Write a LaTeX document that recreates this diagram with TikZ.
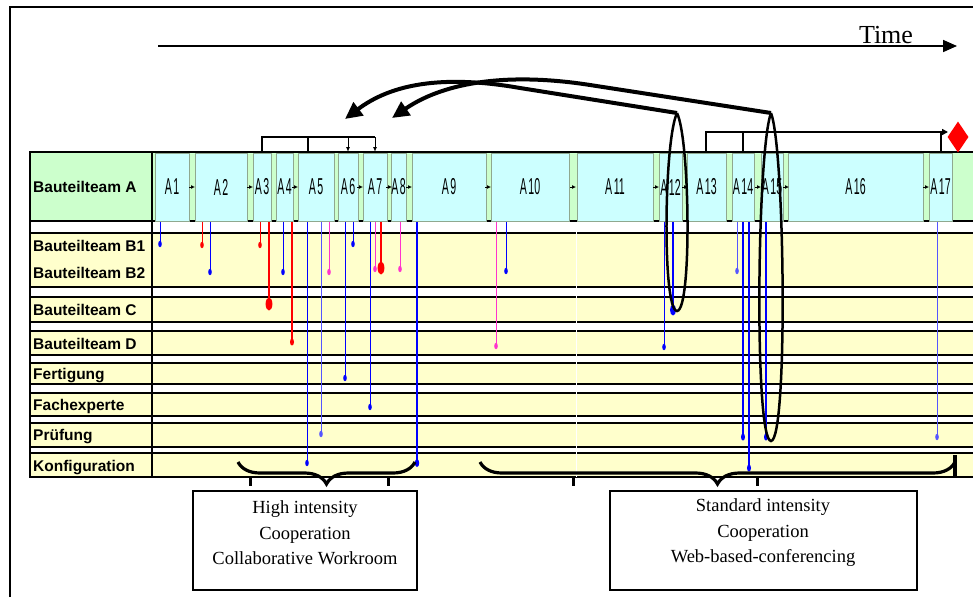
\documentclass[tikz,border=0pt]{standalone}
\usepackage{fontspec}
\setmainfont{Liberation Serif}
\newfontfamily\arialfont{Liberation Sans}
\newfontfamily\narrowfont[FakeStretch=0.46]{Liberation Sans}
\usetikzlibrary{arrows.meta,decorations.pathreplacing,shapes.geometric}

\definecolor{rowyellow}{HTML}{FFFFCC}
\definecolor{rowgreen}{HTML}{CCFFCC}
\definecolor{blkcyan}{HTML}{CCFFFF}
\definecolor{blkedge}{HTML}{8FA88F}
\definecolor{dropmag}{HTML}{FF33CC}
\definecolor{dropblue}{HTML}{0000FF}
\definecolor{droplight}{HTML}{5555FF}

\begin{document}
\begin{tikzpicture}[x=1pt,y=-1pt,
  rowlab/.style={anchor=base west,inner sep=0pt,font=\arialfont\bfseries\fontsize{15.5}{17}\selectfont},
  blk/.style={draw=blkedge,fill=blkcyan,line width=0.6pt,inner sep=0pt,minimum height=68pt,font=\narrowfont\fontsize{23}{24}\selectfont},
  bigarrow/.style={line width=4pt,-{Triangle[length=17pt,width=16pt]}},
  loopline/.style={line width=2.5pt},
  infobox/.style={inner sep=0pt,align=center,font=\fontsize{18.5}{25.5}\selectfont}]
\useasboundingbox (0,0) rectangle (973,597);
\fill[white] (0,0) rectangle (973,597);

% frame
\draw[line width=2.5pt] (10,597) -- (10,7) -- (973,7);

% time axis
\draw[line width=1.6pt,-{Triangle[length=14pt,width=12pt]}] (158,46) -- (957,46);
\node[inner sep=0pt,anchor=base,font=\fontsize{26}{28}\selectfont] (time) at (886,43) {Time};

% rows: label column and chart area
\foreach \t/\b/\f in {152/221/rowgreen,221/233/white,233/287/rowyellow,287/297/white,
    297/322/rowyellow,322/331/white,331/355/rowyellow,355/363/white,363/384/rowyellow,
    384/393/white,393/416/rowyellow,416/423/white,423/447/rowyellow,447/453/white,453/477/rowyellow}
{
  \draw[fill=\f,line width=1.3pt] (30,\t) rectangle (152,\b);
  \fill[\f] (152,\t) rectangle (973,\b);
  \draw[line width=1.4pt] (152,\t) -- (973,\t);
  \draw[line width=1.4pt] (152,\b) -- (973,\b);
}
\draw[white,line width=1pt] (576,222) -- (576,477);
\draw[line width=2pt] (152,152) -- (152,477);

\node[rowlab] (labA) at (33,192) {Bauteilteam A};
\node[rowlab] (labB1) at (33,251) {Bauteilteam B1};
\node[rowlab] (labB2) at (33,278) {Bauteilteam B2};
\node[rowlab] (labC) at (33,315) {Bauteilteam C};
\node[rowlab] (labD) at (33,349) {Bauteilteam D};
\node[rowlab] (labF) at (33,379) {Fertigung};
\node[rowlab] (labE) at (33,410) {Fachexperte};
\node[rowlab] (labP) at (33,440) {Prüfung};
\node[rowlab] (labK) at (33,471) {Konfiguration};

% work packages of Bauteilteam A
\foreach \n/\l/\r in {1/155/189,2/195/247,3/253/271,4/276/293,5/298/334,6/338/358,
    7/363/387,8/391/406,9/412/486,10/491/569,11/577/653,12/659/682,13/687/726,
    14/732/754,15/761/783,16/788/923,17/929/952}
  \node[blk,minimum width={(\r-\l)*1pt}] (a\n) at ({(\l+\r)/2},187) {A\hspace{1.5pt}\n};
\foreach \x in {192,250,295,360,389,409,488,573,656,685,758,786,926}
  \draw[line width=1pt,-{Latex[length=4pt,width=4pt]}] (\x-3,187) -- (\x+3,187);

% drop lines to the other teams
\foreach \x/\y/\c/\w/\rx/\ry in {160/244/dropblue/1/1.8/3.2,202/245/red/1/1.8/3.2,
    210/272/dropblue/1/1.8/3.2,260/245/red/1/1.8/3.2,269/304/red/2.8/3.4/6.5,
    283/272/dropblue/1/1.8/3.2,292/342/red/1.8/2/3.5,307/463/dropblue/1/1.8/3.2,
    321/434/droplight/1/1.8/3.2,329/272/dropmag/1/1.8/3.2,345/378/dropblue/1/1.8/3.2,
    353/244/dropblue/1/1.8/3.2,370/407/dropblue/1/1.8/3.2,375/269/dropmag/1/1.8/3.2,
    381/268/red/2.8/3.4/6.5,400/269/dropmag/1/1.8/3.2,417/463/dropblue/1.5/2.2/4,
    496/346/dropmag/1/1.8/3.2,506/271/dropblue/1/1.8/3.2,664/347/dropblue/1/1.8/3.2,
    673/310/dropblue/1.8/3/5.5,737/271/droplight/1/1.8/3.2,743/437/dropblue/1.2/2/3.6,
    749/468/dropblue/1.2/2/3.6,766/437/dropblue/1.2/2/3.6,937/437/droplight/1/1.8/3.2}
{
  \draw[\c,line width=\w pt] (\x,222) -- (\x,\y);
  \fill[\c] (\x,\y) ellipse (\rx pt and \ry pt);
}

% links above the work packages
\draw[line width=1.2pt] (262,152) -- (262,137) -- (375,137);
\draw[line width=1.2pt] (308,137) -- (308,152);
\draw[line width=1pt,-{Latex[length=5pt,width=4pt]}] (348,137) -- (348,152);
\draw[line width=1pt,-{Latex[length=5pt,width=4pt]}] (375,137) -- (375,152);
\node[diamond,fill=red,inner sep=0pt,minimum width=21pt,minimum height=31pt] (goal) at (958,137) {};
\draw[line width=1.6pt,-{Triangle[length=6pt,width=6pt]}] (706,152) -- (706,132) -- (948,132);
\draw[line width=1.2pt] (743,132) -- (743,152);
\draw[line width=1.2pt] (941,132) -- (941,152);

% loops and feedback arrows
\coordinate (loopItop) at (677,113);
\coordinate (loopIItop) at (771,113);
\coordinate (tipI) at (345,119);
\coordinate (tipII) at (392,118);
\draw[loopline] (loopItop) .. controls (664,140) and (662,310) .. (677,311)
  .. controls (692,310) and (690,140) .. (loopItop);
\draw[loopline] (loopIItop) .. controls (757,150) and (754,440) .. (771,441)
  .. controls (788,440) and (785,150) .. (loopIItop);
\draw[bigarrow] (loopItop) -- (520,88) .. controls (440,74) and (390,85) .. (tipI);
\draw[bigarrow] (loopIItop) -- (590,85) .. controls (500,71) and (440,85) .. (tipII);

% time scale ticks and braces
\foreach \x in {250,388,573,757}
  \draw[line width=3pt] (\x,477) -- (\x,486);
\draw[line width=4pt] (955,455) -- (955,478);
\draw[line width=3.2pt,decorate,decoration={brace,mirror,amplitude=22pt}] (238,462) -- (415,462);
\draw[line width=3.2pt,decorate,decoration={brace,mirror,amplitude=22pt}] (480,462) -- (955,462);

% cooperation boxes
\node[infobox] (high) at (305,533) {High intensity\\Cooperation\\Collaborative Workroom};
\draw[line width=1.5pt] ([shift={(-112,-42)}]high.center) rectangle ([shift={(112,57)}]high.center);
\node[infobox] (std) at (763,533) {Standard intensity\\Cooperation\\Web-based-conferencing};
\draw[line width=1.5pt] ([shift={(-153,-42)}]std.center) rectangle ([shift={(154,57)}]std.center);
\end{tikzpicture}
\end{document}
